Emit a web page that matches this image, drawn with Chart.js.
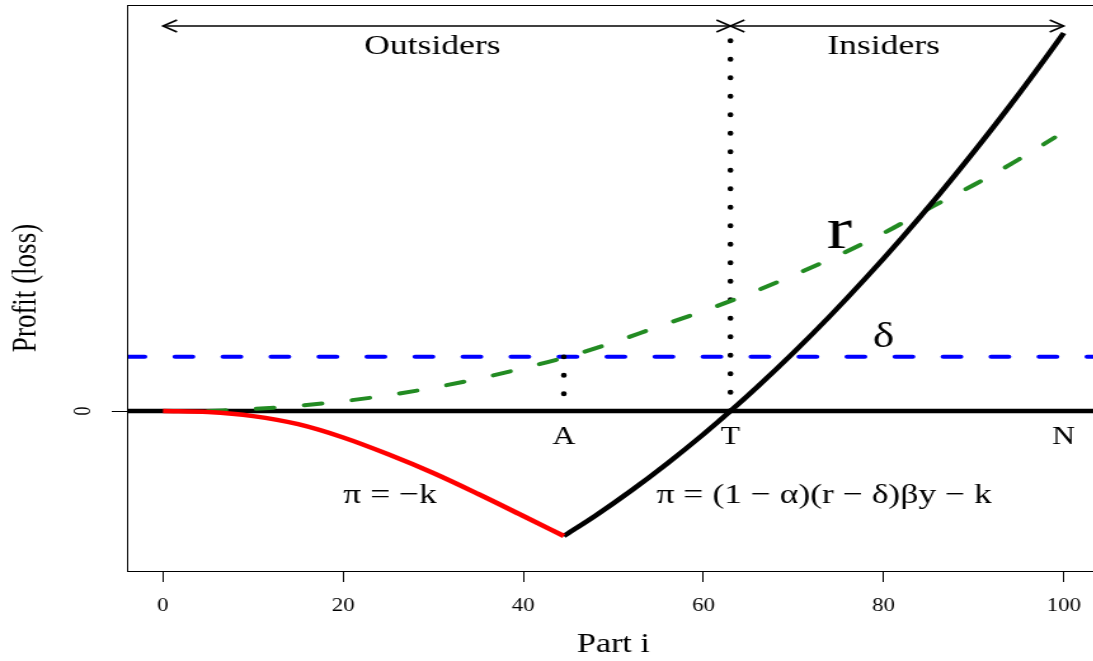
<!DOCTYPE html>
<html>
<head>
<meta charset="utf-8">
<script src="https://cdn.jsdelivr.net/npm/chart.js@4.4.1/dist/chart.umd.min.js"></script>
<style>
  html, body { margin: 0; padding: 0; background: #fff; overflow: hidden; width: 1093px; height: 661px; }
</style>
</head>
<body>
<!-- the original figure is stretched sideways, so the canvas is too -->
<canvas id="plot" width="867" height="661" style="display:block;width:1101px;height:661px"></canvas>
<script>
// ==================== DATA ====================

const xTicks = [0, 20, 40, 60, 80, 100];
const yTicks = [0];

// outsiders' loss (red)
const lossX = [0, 5, 10, 15, 20, 25, 30, 35, 40, 44.5];
const lossY = [0, -0.1, -0.51, -1.32, -2.65, -4.33, -6.2, -8.3, -10.5, -12.5];

// insiders' profit (black)
const profitX = [44.5, 48, 52, 56, 60, 63, 66, 70, 74, 78, 82, 86, 90, 94, 98, 100];
const profitY = [-12.5, -10.47, -7.95, -5.23, -2.32, 0, 2.43, 5.84, 9.45, 13.27, 17.28, 21.48, 25.9, 30.5, 35.32, 37.8];

// r (green dashed)
const rX = [5, 10, 15, 20, 25, 30, 35, 40, 45, 50, 55, 60, 65, 70, 75, 80, 85, 90, 95, 99];
const rY = [0, 0.2, 0.52, 0.98, 1.58, 2.33, 3.23, 4.28, 5.45, 6.85, 8.45, 10.0, 11.7, 13.57, 15.57, 17.78, 20.25, 22.6, 25.15, 27.35];

// delta (blue dashed) and the zero line
const deltaLevel = 5.43;
const spanX = [-4, 104];

// marked parts A, T, N
const partA = 44.5;
const partT = 63;
const partN = 100;
const bracketLevel = 38.5;
const dotsA = [1.7, deltaLevel];

// ==================== HELPERS ====================

const SERIF = "'Liberation Serif', 'DejaVu Serif', serif";

function pts(xs, ys) {
    return xs.map((x, i) => ({ x: x, y: ys[i] }));
}

function flat(xs, y) {
    return xs.map(x => ({ x: x, y: y }));
}

// text notes placed in data units
const notes = [
    { text: 'Outsiders', x: 29.9, y: 35.7, size: 28 },
    { text: 'Insiders', x: 80.0, y: 35.7, size: 28 },
    { text: 'r', x: 75.1, y: 16.3, size: 60 },
    { text: 'δ', x: 80.0, y: 6.4, size: 36 },
    { text: 'A', x: partA, y: -3.25, size: 25 },
    { text: 'T', x: partT, y: -3.25, size: 25 },
    { text: 'N', x: partN, y: -3.25, size: 25 },
    { text: 'π = −k', x: 25.2, y: -9.2, size: 28 },
    { text: 'π = (1 − α)(r − δ)βy − k', x: 73.4, y: -9.2, size: 28 }
];

const figurePlugin = {
    id: 'figure',
    afterDatasetsDraw(chart) {
        const ctx = chart.ctx;
        // arrow heads at both ends of the bracket lines
        chart.data.datasets.forEach((ds, i) => {
            if (!ds.arrows) return;
            const pts = chart.getDatasetMeta(i).data;
            const a = pts[0], b = pts[pts.length - 1];
            ctx.save();
            ctx.strokeStyle = '#000';
            ctx.lineWidth = 1.6;
            ctx.beginPath();
            ctx.moveTo(a.x + 11, a.y - 6); ctx.lineTo(a.x, a.y); ctx.lineTo(a.x + 11, a.y + 6);
            ctx.moveTo(b.x - 11, b.y - 6); ctx.lineTo(b.x, b.y); ctx.lineTo(b.x - 11, b.y + 6);
            ctx.stroke();
            ctx.restore();
        });
    },
    afterDraw(chart) {
        const ctx = chart.ctx;
        const area = chart.chartArea;
        const sx = chart.scales.x, sy = chart.scales.y;
        ctx.save();
        ctx.strokeStyle = '#000';
        ctx.lineWidth = 1;
        ctx.strokeRect(area.left + 0.5, area.top + 0.5, area.right - area.left, area.bottom - area.top);
        ctx.fillStyle = '#000';
        ctx.textAlign = 'center';
        ctx.textBaseline = 'alphabetic';
        notes.forEach(n => {
            ctx.font = n.size + 'px ' + SERIF;
            ctx.fillText(n.text, sx.getPixelForValue(n.x), sy.getPixelForValue(n.y));
        });
        ctx.restore();
    }
};

// ==================== CHART ====================

const ctx = document.getElementById('plot').getContext('2d');

const chart = new Chart(ctx, {
    type: 'line',
    data: {
        datasets: [
            {
                label: 'loss',
                data: pts(lossX, lossY),
                borderColor: '#ff0000',
                borderWidth: 4.5,
                cubicInterpolationMode: 'monotone'
            },
            {
                label: 'profit',
                data: pts(profitX, profitY),
                borderColor: '#000',
                borderWidth: 4.5,
                cubicInterpolationMode: 'monotone'
            },
            {
                label: 'r',
                data: pts(rX, rY),
                borderColor: '#228b22',
                borderWidth: 4,
                borderDash: [14, 24],
                borderCapStyle: 'round',
                cubicInterpolationMode: 'monotone'
            },
            {
                label: 'T',
                data: pts([partT, partT], [0, bracketLevel]),
                borderColor: '#000',
                borderWidth: 4.5,
                borderDash: [0.5, 18],
                borderCapStyle: 'round'
            },
            {
                label: 'A',
                data: pts([partA, partA], dotsA),
                borderColor: '#000',
                borderWidth: 4.5,
                borderDash: [0.5, 18],
                borderCapStyle: 'round'
            },
            {
                label: 'delta',
                data: flat(spanX, deltaLevel),
                borderColor: '#0000ff',
                borderWidth: 4,
                borderDash: [14, 23.8],
                borderCapStyle: 'round'
            },
            {
                label: 'zero',
                data: flat(spanX, 0),
                borderColor: '#000',
                borderWidth: 4.5
            },
            {
                label: 'outsiders',
                data: flat([0, partT], bracketLevel),
                borderColor: '#000',
                borderWidth: 1.6,
                arrows: true
            },
            {
                label: 'insiders',
                data: flat([partT, partN], bracketLevel),
                borderColor: '#000',
                borderWidth: 1.6,
                arrows: true
            }
        ]
    },
    options: {
        responsive: false,
        animation: false,
        devicePixelRatio: 1,
        layout: { padding: { top: 5, right: 1, left: 0, bottom: 0 } },
        elements: { point: { radius: 0 } },
        plugins: {
            legend: { display: false },
            tooltip: { enabled: false }
        },
        scales: {
            x: {
                type: 'linear',
                min: -4,
                max: 104,
                afterBuildTicks: s => { s.ticks = xTicks.map(v => ({ value: v })); },
                afterFit: s => { s.height = 90; s.paddingLeft = 0; s.paddingRight = 0; },
                grid: { drawOnChartArea: false, drawTicks: true, tickLength: 11, color: '#000', lineWidth: 1 },
                border: { display: false },
                ticks: {
                    autoSkip: false,
                    maxRotation: 0,
                    padding: 13,
                    color: '#000',
                    font: { family: SERIF, size: 18 }
                },
                title: {
                    display: true,
                    text: 'Part i',
                    color: '#000',
                    font: { family: SERIF, size: 27 },
                    padding: { top: 0, bottom: 0 }
                }
            },
            y: {
                type: 'linear',
                min: -16,
                max: 40.6,
                afterBuildTicks: s => { s.ticks = yTicks.map(v => ({ value: v })); },
                afterFit: s => { s.width = 100; s.paddingTop = 0; s.paddingBottom = 0; },
                grid: { drawOnChartArea: false, drawTicks: true, tickLength: 12, color: '#000', lineWidth: 1 },
                border: { display: false },
                ticks: {
                    minRotation: 90,
                    maxRotation: 90,
                    crossAlign: 'center',
                    padding: 17,
                    color: '#000',
                    font: { family: SERIF, size: 18 }
                },
                title: {
                    display: true,
                    text: 'Profit (loss)',
                    color: '#000',
                    font: { family: SERIF, size: 27 },
                    padding: { top: 5, bottom: 0 }
                }
            }
        }
    },
    plugins: [figurePlugin]
});
</script>
</body>
</html>
